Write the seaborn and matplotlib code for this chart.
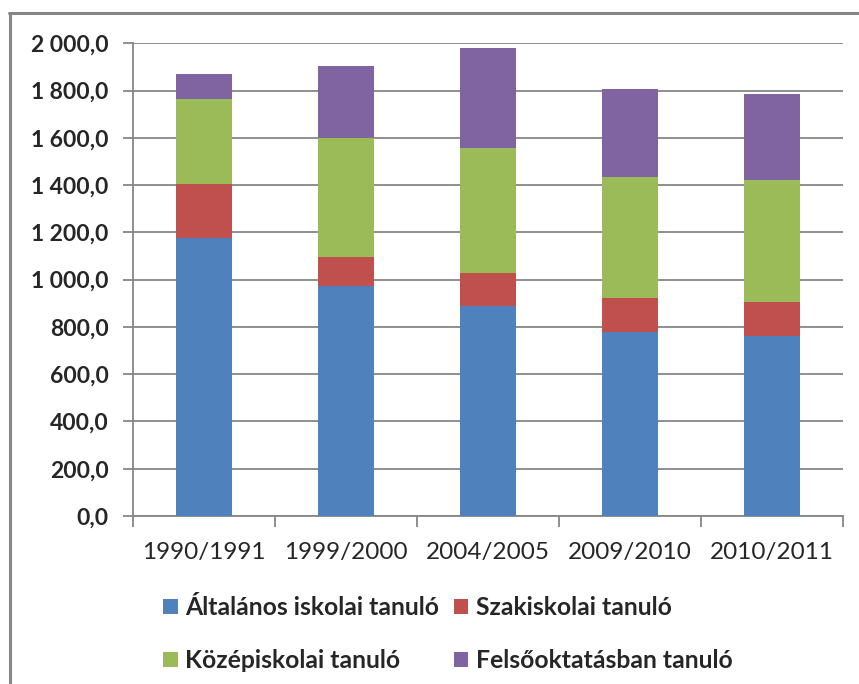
import matplotlib
matplotlib.use("Agg")
import matplotlib.pyplot as plt
import matplotlib.ticker as mticker
from matplotlib.lines import Line2D
from matplotlib.patches import Patch
import numpy as np
import pandas as pd
import seaborn as sns

categories = ["1990/1991", "1999/2000", "2004/2005", "2009/2010", "2010/2011"]
series_names = ["Általános iskolai tanuló", "Szakiskolai tanuló",
                "Középiskolai tanuló", "Felsőoktatásban tanuló"]
altalanos = [1176, 973, 890, 778, 761]
szakiskolai = [229, 123, 138, 144, 144]
kozepiskolai = [359, 503, 529, 512, 516]
felsooktatas = [106, 305, 423, 373, 364]
colors = ["#4F81BD", "#C0504D", "#9BBB59", "#8064A2"]
yticks = [0, 200, 400, 600, 800, 1000, 1200, 1400, 1600, 1800, 2000]

sns.set_style("white")
plt.rcParams['font.family'] = ['Lato', 'DejaVu Sans']

fig = plt.figure(figsize=(8.59, 6.84), dpi=100)
ax = fig.add_axes([0.1548, 0.2456, 0.9814 - 0.1548, 0.9367 - 0.2456])

series = [altalanos, szakiskolai, kozepiskolai, felsooktatas]
cum = np.cumsum(np.array(series), axis=0)
# draw tallest (cumulative) first so lower segments overlay
for i in range(len(series) - 1, -1, -1):
    df = pd.DataFrame({"cat": categories, "val": cum[i]})
    sns.barplot(data=df, x="cat", y="val", color=colors[i], width=0.394,
                saturation=1, ax=ax, zorder=3, linewidth=0)

ax.set_ylim(0, 2000)
ax.set_xlim(-0.5, len(categories) - 0.5)
ax.set_yticks(yticks)
ax.yaxis.set_major_formatter(mticker.FuncFormatter(
    lambda v, p: (f"{v:,.1f}").replace(",", " ").replace(".", ",")))
ax.grid(axis="y", color="#868686", linewidth=1.3, zorder=0)
ax.set_axisbelow(True)
ax.set_xlabel("")
ax.set_ylabel("")

for s in ["top", "right"]:
    ax.spines[s].set_visible(False)
for s in ["left", "bottom"]:
    ax.spines[s].set_color("#868686")
    ax.spines[s].set_linewidth(1.3)

ax.tick_params(axis="y", which="major", length=7, width=1.3, color="#868686",
               direction="out", pad=10.5, labelsize=16.5, left=True)
for lab in ax.get_yticklabels():
    lab.set_fontweight("bold")
ax.tick_params(axis="x", which="major", length=0, pad=19, labelsize=17.5)
ax.set_xticks(np.arange(-0.5, len(categories), 1.0), minor=True)
ax.tick_params(axis="x", which="minor", length=8, width=1.3, color="#868686",
               direction="out", bottom=True)

handles = [Patch(facecolor=colors[i], edgecolor="none", label=series_names[i])
           for i in [0, 2, 1, 3]]
leg = fig.legend(handles=handles, ncol=2, loc="upper left",
                 bbox_to_anchor=(0.19, 0.128), frameon=False,
                 prop={"size": 17.8, "weight": "bold"},
                 handlelength=0.58, handleheight=0.58, handletextpad=0.3,
                 columnspacing=0.6, labelspacing=1.2, borderaxespad=0,
                 borderpad=0)

# chart frame (top and left edge)
fig.add_artist(Line2D([9 / 859, 1.0], [1 - 13 / 684, 1 - 13 / 684],
                      transform=fig.transFigure, color="#868686", linewidth=2.2))
fig.add_artist(Line2D([10 / 859, 10 / 859], [0, 1 - 13 / 684],
                      transform=fig.transFigure, color="#868686", linewidth=2.2))

fig.savefig("out.png", dpi=100)
